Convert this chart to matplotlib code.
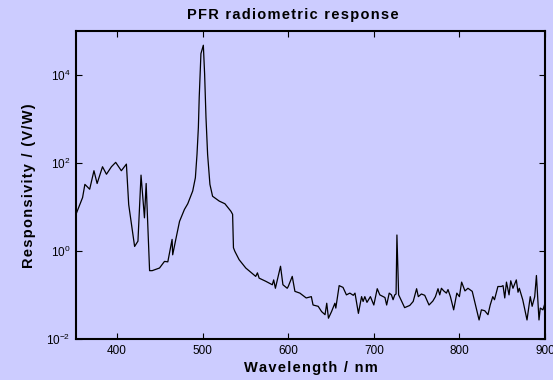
import matplotlib

matplotlib.use("Agg")
import matplotlib.pyplot as plt
import numpy as np

# wavelength (nm) and log10 responsivity (V/W)
wavelength = [
    352, 359.7, 362.4, 368, 373, 376.7, 383, 387.6, 393.4, 398.4, 405, 410.9,
    413.6, 420.5, 424.4, 428, 432, 434, 438, 441, 449.6, 455.4, 459.3, 464.3,
    465, 468.2, 473, 478.7, 482.6, 488.4, 491.5, 493.4, 495, 496, 498, 500.8,
    502.3, 503.9, 505.8, 508.5, 511.6, 519.4, 526, 533, 535, 536, 537.6, 542.6,
    550.4, 562, 564, 566, 573.6, 581.4, 583, 585, 591, 593.8, 598.8, 600,
    604.7, 607.8, 613.6, 621, 627, 629, 635, 639, 643, 645, 647, 650.6, 654.5,
    655.6, 659.5, 664, 668, 672, 676, 678, 682, 685.7, 687.5, 689.5, 692, 696,
    700, 704, 707, 713, 715, 718, 720.6, 722.5, 724.5, 726, 727, 729, 730,
    736, 742, 746, 750, 752, 755.6, 759.5, 764.5, 769, 772, 775, 777, 779,
    781.7, 784.8, 786.7, 789.5, 793.3, 797, 800, 802.6, 806.5, 810, 815,
    819.7, 823, 825.7, 829.6, 833.4, 836, 839, 841, 845, 849, 851, 853, 855,
    858, 860, 862.6, 866.5, 868.5, 870, 874, 879, 882.8, 885, 888, 890, 893,
    894.5, 897.6, 900,
]
log_resp = [
    0.84, 1.22, 1.52, 1.41, 1.83, 1.54, 1.92, 1.75, 1.92, 2.02, 1.83, 1.98,
    1.06, 0.11, 0.23, 1.73, 0.76, 1.54, -0.44, -0.44, -0.38, -0.23, -0.24, 0.27,
    -0.08, 0.23, 0.68, 0.95, 1.08, 1.37, 1.67, 2.2, 2.81, 3.5, 4.49, 4.68,
    4.03, 3.04, 2.2, 1.52, 1.25, 1.14, 1.08, 0.91, 0.84, 0.08, 0.0, -0.19,
    -0.38, -0.57, -0.49, -0.61, -0.68, -0.76, -0.65, -0.84, -0.34, -0.76, -0.84, -0.8,
    -0.57, -0.91, -0.95, -1.06, -1.03, -1.22, -1.25, -1.37, -1.44, -1.18, -1.52, -1.37, -1.18,
    -1.29, -0.78, -0.82, -0.99, -0.95, -1.0, -0.95, -1.41, -1.03, -1.14, -1.03, -1.16, -1.03,
    -1.22, -0.85, -0.99, -1.05, -1.22, -0.95, -0.99, -1.1, -0.99, -0.97, 0.37, -0.99, -1.03,
    -1.28, -1.23, -1.14, -0.85, -1.03, -0.97, -1.0, -1.22, -1.13, -1.03, -0.85, -0.99, -0.84,
    -0.9, -0.95, -0.87, -1.03, -1.33, -0.95, -1.03, -0.7, -0.9, -0.84, -0.91,
    -1.29, -1.56, -1.33, -1.35, -1.44, -1.22, -1.03, -1.1, -0.8, -0.8, -0.78, -1.06, -0.7,
    -0.99, -0.67, -0.84, -0.65, -0.93, -0.84, -1.1, -1.56, -1.03, -1.25, -1.03, -0.55, -1.56,
    -1.29, -1.33, -1.18,
]
x_ticks = [400, 500, 600, 700, 800, 900]
y_exponents = [-2, 0, 2, 4]

BG = "#ccccff"

plt.rcParams["font.family"] = ["Liberation Sans", "DejaVu Sans"]
plt.rcParams["mathtext.fontset"] = "custom"
plt.rcParams["mathtext.rm"] = "Liberation Sans"
plt.rcParams["mathtext.it"] = "Liberation Sans:italic"
plt.rcParams["mathtext.bf"] = "Liberation Sans:bold"


def spaced(text):
    # the original renders with wide letter spacing; fake it with hair spaces
    return "\u200a".join(text)


fig = plt.figure(figsize=(5.53, 3.80), dpi=100, facecolor=BG)
ax = fig.add_axes([0.1374, 0.107, 0.8481, 0.811], facecolor=BG)

ax.plot(wavelength, np.power(10.0, log_resp), color="black", linewidth=0.9)
ax.set_yscale("log")
ax.set_xlim(352, 900)
ax.set_ylim(1e-2, 1e5)

ax.set_xticks(x_ticks)
ax.set_xticklabels([str(t) for t in x_ticks])
ax.set_yticks([10.0 ** e for e in y_exponents])
ax.set_yticklabels([r"$10^{%d}$" % e for e in y_exponents])
ax.minorticks_off()
ax.tick_params(direction="in", top=True, right=True, length=4, width=0.8,
               labelsize=8.5, colors="black", pad=4)
for spine in ax.spines.values():
    spine.set_linewidth(1.5)

fig.text(0.529, 1 - 15.5 / 380, spaced("PFR radiometric response"),
         ha="center", va="center", fontsize=10.5, fontweight="bold")
ax.set_xlabel(spaced("Wavelength / nm"), fontsize=10.5, fontweight="bold", labelpad=3)
ax.set_ylabel(spaced("Responsivity / (V/W)"), fontsize=10.5, fontweight="bold", labelpad=7)

fig.savefig("out.png", dpi=100, facecolor=BG)
